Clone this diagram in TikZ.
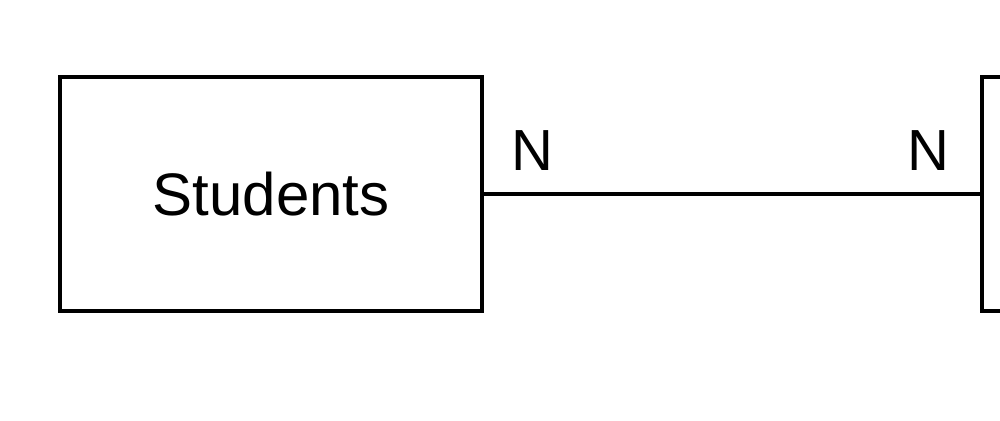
\documentclass[tikz,border=0pt]{standalone}
\usepackage{fontspec}
\setmainfont{Liberation Sans}
\begin{document}
\begin{tikzpicture}[x=1pt,y=1pt,
  entity/.style={draw=black,line width=1.7pt,rectangle,inner sep=0pt,minimum width=211pt,minimum height=117pt,font=\fontsize{30}{36}\selectfont},
  card/.style={anchor=base,inner sep=0pt,font=\fontsize{29}{34}\selectfont},
  link/.style={draw=black,line width=1.6pt}]
\useasboundingbox (0,0) rectangle (500,210);
\clip (0,0) rectangle (500,210);
\node[entity] (students) at (135.5,113) {\raisebox{-3pt}{Students}};
\node[entity] (other) at (596.5,113) {};
\draw[link] (students.east) -- (other.west);
\node[card] (n1) at (266,125) {N};
\node[card] (n2) at (464,125) {N};
\end{tikzpicture}
\end{document}
